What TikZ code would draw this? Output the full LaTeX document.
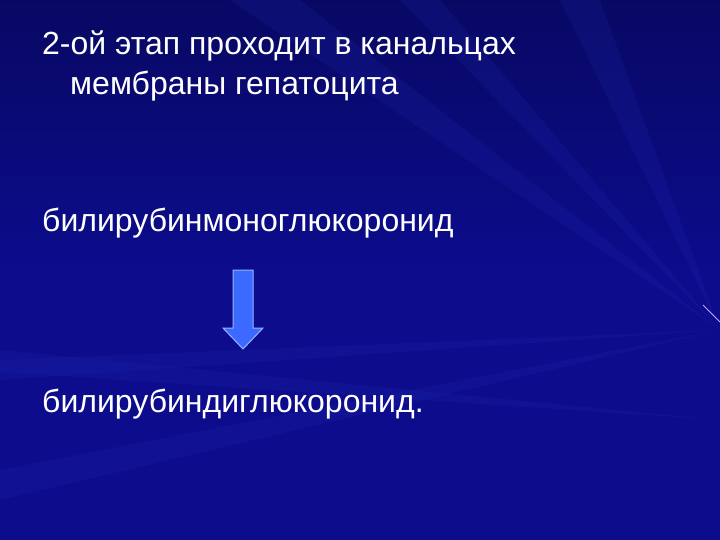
\documentclass[tikz,border=0pt]{standalone}
\usepackage{fontspec}
\setmainfont{Liberation Sans}
\definecolor{bgblue}{RGB}{12,12,140}
\definecolor{bgdark}{RGB}{8,8,100}
\definecolor{raycol}{RGB}{40,50,190}
\definecolor{arrowfill}{RGB}{60,105,255}
\definecolor{arrowedge}{RGB}{150,180,255}
\definecolor{streak}{RGB}{190,170,255}
\tikzset{
  txt/.style={anchor=base west, text=white, inner sep=0pt, font=\fontsize{32bp}{36bp}\selectfont},
  ray/.style={fill=raycol, opacity=0.15},
}
\begin{document}
\begin{tikzpicture}[x=1bp,y=-1bp]
\useasboundingbox (0,0) rectangle (720,540);
\shade[top color=bgdark, bottom color=bgblue, middle color=bgblue] (0,0) rectangle (720,540);
% faint rays from the right
\fill[ray] (720,330) -- (0,360) -- (0,380) -- cycle;
\fill[ray] (720,330) -- (230,0) -- (300,0) -- cycle;
\fill[ray] (720,330) -- (400,0) -- (440,0) -- cycle;
\fill[ray] (720,420) -- (0,350) -- (0,372) -- cycle;
\fill[ray] (720,330) -- (0,470) -- (0,500) -- cycle;
\fill[ray] (720,330) -- (560,0) -- (600,0) -- cycle;
\draw[streak, line width=0.8bp] (703,305) -- (720,322);
% texts
\node[txt] (t1) at (42,55) {2-ой этап проходит в канальцах};
\node[txt] (t2) at (70,95) {мембраны гепатоцита};
\node[txt] (t3) at (42,232) {билирубинмоноглюкоронид};
\node[txt] (t4) at (42,412) {билирубиндиглюкоронид.};
% arrow
\filldraw[draw=arrowedge, fill=arrowfill, line width=1bp, line join=miter]
  (233,270) -- (253,270) -- (253,328) -- (263,328) -- (243,349) -- (223,328) -- (233,328) -- cycle;
\end{tikzpicture}
\end{document}
